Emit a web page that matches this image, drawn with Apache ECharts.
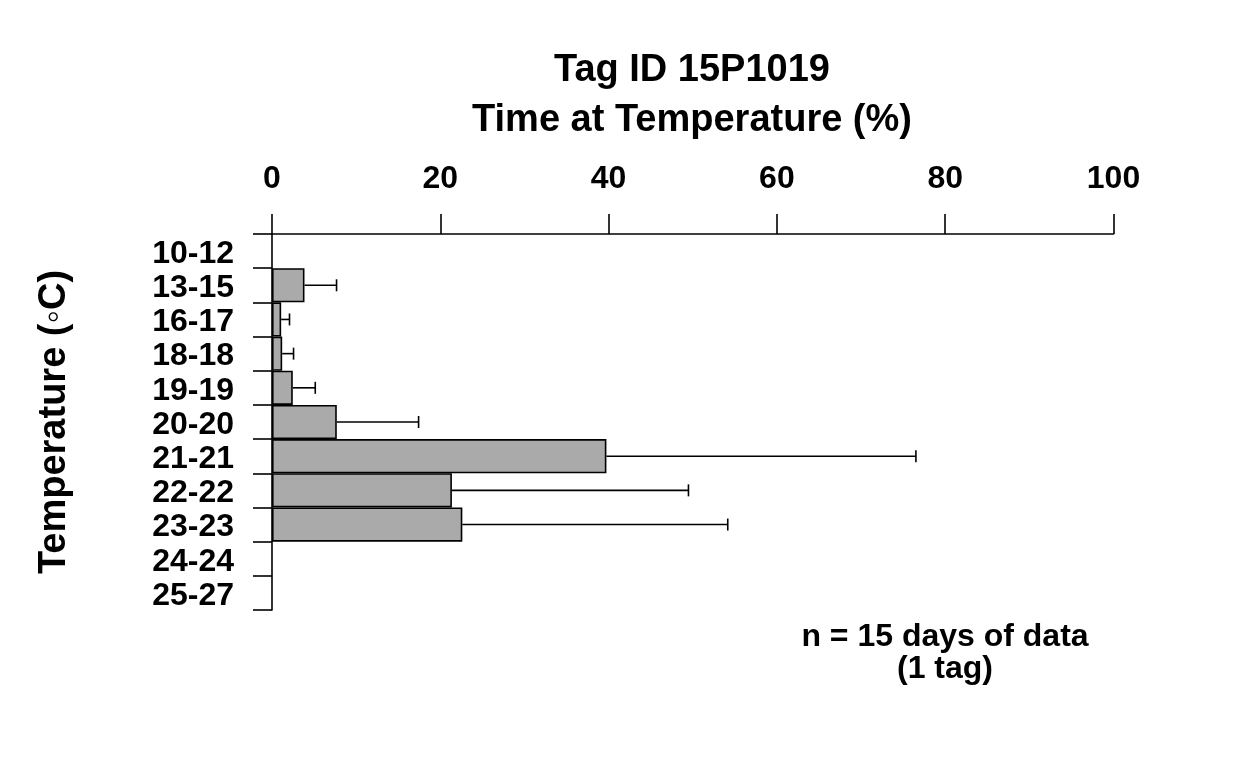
<!DOCTYPE html>
<html>
<head>
<meta charset="utf-8">
<script src="https://cdn.jsdelivr.net/npm/echarts@6/dist/echarts.min.js"></script>
<style>
  html, body { margin: 0; padding: 0; background: #ffffff; }
  #chart { width: 1248px; height: 768px; }
</style>
</head>
<body>
<div id="chart"></div>
<script>
// ---- data ----
const categories = ['10-12', '13-15', '16-17', '18-18', '19-19', '20-20', '21-21', '22-22', '23-23', '24-24', '25-27'];
const meanPercent = [null, 3.86, 1.09, 1.21, 2.47, 7.70, 39.74, 21.38, 22.62, null, null];
const upperPercent = [null, 7.67, 2.08, 2.56, 5.14, 17.42, 76.52, 49.49, 54.16, null, null];
const xTicks = [0, 20, 40, 60, 80, 100];

const titleLine1 = 'Tag ID 15P1019';
const titleLine2 = 'Time at Temperature (%)';
const yName = 'Temperature (\u25E6C)';
const noteLine1 = 'n = 15 days of data';
const noteLine2 = '(1 tag)';

const FONT = '"Liberation Sans", Arial, Helvetica, sans-serif';

const errData = [];
categories.forEach(function (c, i) {
  if (meanPercent[i] != null && upperPercent[i] != null) {
    errData.push([upperPercent[i], i, meanPercent[i]]);
  }
});

const chart = echarts.init(document.getElementById('chart'), null, { renderer: 'canvas' });

const option = {
  animation: false,
  backgroundColor: '#ffffff',
  textStyle: { fontFamily: FONT },
  title: [
    { text: titleLine1, left: 692, top: 52, textAlign: 'center', padding: 0,
      textStyle: { fontFamily: FONT, fontWeight: 'bold', fontSize: 38, color: '#000', lineHeight: 38 } },
    { text: titleLine2, left: 692, top: 102, textAlign: 'center', padding: 0,
      textStyle: { fontFamily: FONT, fontWeight: 'bold', fontSize: 38, color: '#000', lineHeight: 38 } },
    { text: noteLine1, left: 945, top: 621, textAlign: 'center', padding: 0,
      textStyle: { fontFamily: FONT, fontWeight: 'bold', fontSize: 32, color: '#000', lineHeight: 32 } },
    { text: noteLine2, left: 945, top: 653, textAlign: 'center', padding: 0,
      textStyle: { fontFamily: FONT, fontWeight: 'bold', fontSize: 32, color: '#000', lineHeight: 32 } }
  ],
  grid: { left: 272, right: 134.5, top: 234, bottom: 158, containLabel: false },
  xAxis: {
    type: 'value',
    position: 'top',
    min: xTicks[0],
    max: xTicks[xTicks.length - 1],
    interval: xTicks[1] - xTicks[0],
    axisLine: { show: true, onZero: false, lineStyle: { color: '#000', width: 1.6 } },
    axisTick: { show: true, length: 20, lineStyle: { color: '#000', width: 1.6 } },
    axisLabel: { margin: 39, color: '#000', fontFamily: FONT, fontWeight: 'bold', fontSize: 32 },
    splitLine: { show: false }
  },
  yAxis: {
    type: 'category',
    data: categories,
    inverse: true,
    boundaryGap: true,
    name: yName,
    nameLocation: 'middle',
    nameRotate: 90,
    nameGap: 198,
    nameTextStyle: { color: '#000', fontFamily: FONT, fontWeight: 'bold', fontSize: 38 },
    axisLine: { show: true, lineStyle: { color: '#000', width: 1.6 } },
    axisTick: { show: true, length: 19, alignWithLabel: false, lineStyle: { color: '#000', width: 1.6 } },
    axisLabel: {
      margin: 38, color: '#000', fontFamily: FONT, fontWeight: 'bold', fontSize: 32, interval: 0,
      formatter: function (v) { return '{a|' + v + '}'; },
      rich: { a: { fontFamily: FONT, fontWeight: 'bold', fontSize: 32, color: '#000', lineHeight: 32, padding: [6, 0, 0, 0] } }
    },
    splitLine: { show: false }
  },
  series: [
    {
      type: 'bar',
      data: meanPercent,
      barWidth: '100%',
      itemStyle: { color: '#aaaaaa', borderColor: '#000', borderWidth: 1.6 },
      z: 2
    },
    {
      type: 'custom',
      data: errData,
      encode: { x: 0, y: 1 },
      z: 3,
      renderItem: function (params, api) {
        const up = api.value(0);
        const idx = api.value(1);
        const mean = api.value(2);
        const p0 = api.coord([mean, idx]);
        const p1 = api.coord([up, idx]);
        const half = 6;
        const style = { stroke: '#000', lineWidth: 1.6 };
        return {
          type: 'group',
          children: [
            { type: 'line', shape: { x1: p0[0], y1: p0[1], x2: p1[0], y2: p1[1] }, style: style },
            { type: 'line', shape: { x1: p1[0], y1: p1[1] - half, x2: p1[0], y2: p1[1] + half }, style: style }
          ]
        };
      }
    }
  ]
};

chart.setOption(option);
</script>
</body>
</html>
